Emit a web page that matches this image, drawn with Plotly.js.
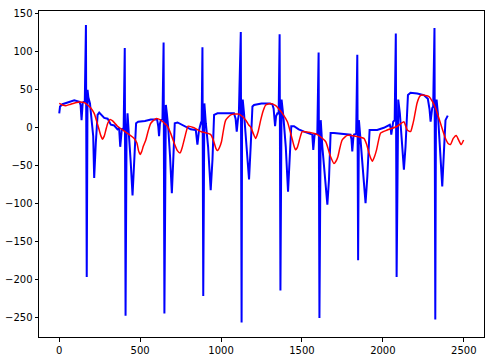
<!DOCTYPE html>
<html>
<head>
<meta charset="utf-8">
<script src="https://cdn.plot.ly/plotly-3.0.1.min.js"></script>
<style>html,body{margin:0;padding:0;background:#fff;}#chart{width:492px;height:361px;}</style>
</head>
<body>
<div id="chart"></div>
<script>
// Blue signal (vertices)
const blueX = [0,5,20,50,93,125,132,138,145,158,
  165,170,175,180,190,196,205,210,216,222,226,237,247,278,299,319,340,360,370,377,387,398,
  405,410,416,422,432,442,453,463,475,488,530,566,605,612,617,622,628,638,
  645,650,655,659,665,673,685,696,704,714,731,772,813,844,849,854,864,875,880,
  885,890,893,897,906,920,936,947,957,978,1030,1080,1090,1097,1104,1110,
  1122,1127,1130,1134,1142,1153,1173,1183,1194,1204,1250,1300,1317,1325,1334,1340,1350,1356,
  1362,1367,1370,1374,1385,1400,1414,1424,1434,1451,1480,1513,1545,1564,1570,1578,1595,
  1603,1608,1612,1616,1626,1640,1657,1667,1677,1698,1750,1800,1806,1811,1818,1822,1835,
  1842,1847,1850,1852,1862,1879,1893,1904,1918,1965,2006,2043,2048,2052,2058,2064,2073,
  2080,2085,2090,2095,2105,2115,2130,2140,2155,2171,2212,2253,2265,2278,2288,2295,2305,2311,
  2319,2324,2328,2332,2340,2352,2367,2377,2387,2401];
const blueY = [19,28,31,33,36,34,30,10,33,35,
  135,-196,50,40,32,19,-5,-11,-66,-35,-20,17,20,13,12,4,3,-2,0,-25,-1,-3,
  105,-247,-10,19,-9,-46,-89,-51,6,8,9,11,11,2,-11,5,10,11,
  112,-244,10,30,19,2,-38,-86,-46,6,7,2,-2,-3,-10,-22,-3,6,5,
  106,-221,10,32,6,-25,-82,-42,17,19,19,19,12,-5,10,17,
  126,-256,15,37,19,-11,-68,-25,28,30,32,32,31,25,2,15,20,18,
  123,-214,10,37,15,-25,-84,-42,2,2,-2,-5,-7,-9,-29,-9,-7,
  99,-250,0,10,-25,-64,-101,-68,-7,-7,-8,-9,-15,-31,-12,-9,-8,
  96,-174,0,10,-16,-60,-99,-64,-3,-3,0,4,0,-9,2,8,10,
  124,-196,10,37,19,-16,-55,-25,43,46,45,43,41,38,25,8,26,28,
  131,-252,10,37,19,-25,-77,-33,10,16];

// Red smooth series (vertices)
const redX = [0,20,41,70,100,130,155,175,195,216,235,247,258,268,278,288,300,315,330,360,412,463,480,490,500,510,520,535,550,566,597,628,650,669,690,710,730,747,760,772,785,796,833,875,936,955,968,978,990,1003,1015,1029,1060,1111,1153,1170,1183,1200,1214,1228,1245,1260,1276,1307,1338,1360,1379,1410,1425,1441,1451,1461,1471,1482,1492,1502,1543,1595,1646,1665,1677,1698,1710,1722,1735,1749,1780,1832,1883,1900,1914,1925,1935,1948,1961,1975,1986,2027,2089,2130,2140,2151,2171,2182,2192,2212,2230,2243,2285,2305,2325,2356,2387,2405,2418,2435,2453,2468,2484,2499];
const redY = [32,30,29,31,33,34,33,30,26,19,6,-3,-11,-15,-11,-3,6,11,9,2,-6,-14,-20,-30,-35,-31,-24,-16,-4,6,12,10,6,2,-8,-20,-30,-33,-26,-16,-5,2,0,-5,-9,-18,-27,-30,-26,-18,-3,10,17,18,10,4,1,-8,-14,-6,10,22,30,32,29,24,19,8,-3,-16,-24,-29,-26,-18,-10,-5,-6,-9,-18,-30,-38,-47,-44,-38,-26,-16,-10,-11,-14,-22,-33,-40,-44,-38,-29,-15,-7,-3,2,8,3,-3,-5,2,11,33,42,43,41,35,26,6,-14,-21,-22,-14,-10,-16,-22,-16];

const xTicks = [0,500,1000,1500,2000,2500];
const yTicks = [-250,-200,-150,-100,-50,0,50,100,150];

const traces = [
  {x: blueX, y: blueY, type: 'scatter', mode: 'lines', line: {color: '#0000ff', width: 2}, hoverinfo: 'skip'},
  {x: redX, y: redY, type: 'scatter', mode: 'lines', line: {color: '#ff0000', width: 1.5, shape: 'spline', smoothing: 0.6}, hoverinfo: 'skip'}
];

const axisCommon = {
  showgrid: false, zeroline: false, showline: true, mirror: true,
  linecolor: '#000', linewidth: 1, ticks: 'outside', ticklen: 3.5, tickwidth: 1, tickcolor: '#000',
  tickfont: {family: 'DejaVu Sans', size: 10, color: '#000'}
};

const layout = {
  width: 492, height: 361,
  margin: {l: 39, r: 8, t: 11, b: 24},
  paper_bgcolor: '#fff', plot_bgcolor: '#fff',
  showlegend: false,
  xaxis: Object.assign({}, axisCommon, {range: [-125, 2625], tickvals: xTicks, ticktext: xTicks.map(String)}),
  yaxis: Object.assign({}, axisCommon, {range: [-275, 153.5], tickvals: yTicks, ticktext: yTicks.map(v => v < 0 ? '\u2212' + Math.abs(v) : String(v))})
};

Plotly.newPlot('chart', traces, layout, {staticPlot: true, displayModeBar: false});
</script>
</body>
</html>
